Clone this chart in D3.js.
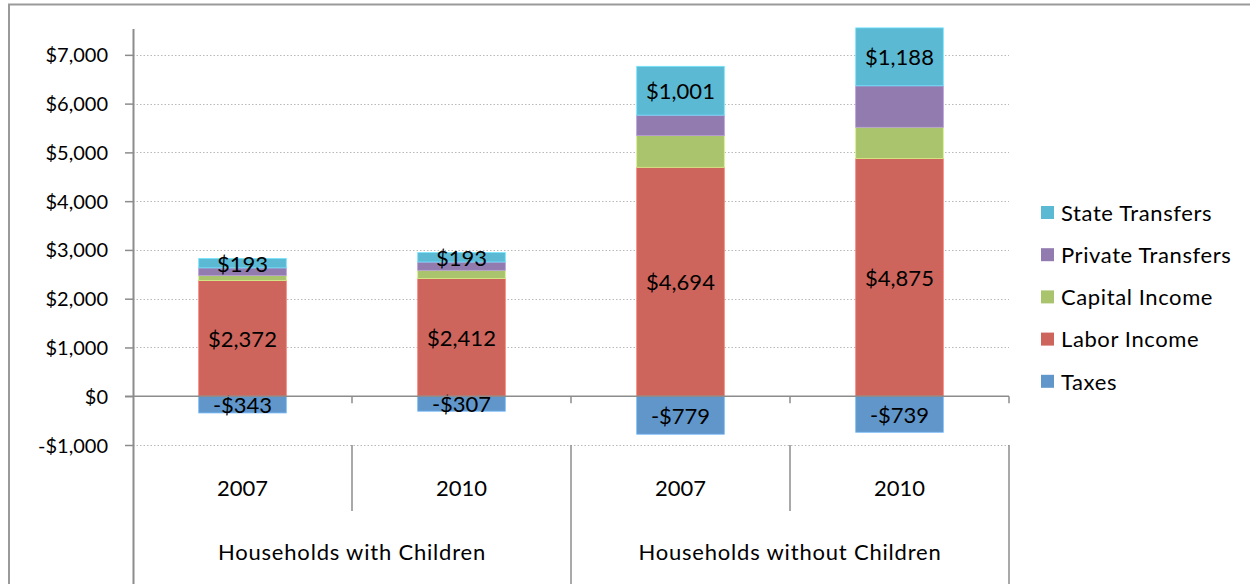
<!DOCTYPE html>
<html>
<head>
<meta charset="utf-8">
<script src="https://cdn.jsdelivr.net/npm/d3@7"></script>
<style>
  html, body { margin: 0; padding: 0; background: #fff; }
  svg { display: block; }
  text { font-family: Lato, "Open Sans", sans-serif; fill: #000; }
</style>
</head>
<body>
<svg id="chart" width="1250" height="584"></svg>
<script>
// Household income components by year and household type
const groups = ["Households with Children", "Households without Children"];
const years = ["2007", "2010"];
const seriesNames = ["Taxes", "Labor Income", "Capital Income", "Private Transfers", "State Transfers"];
const taxes = [-343, -307, -779, -739];
const laborIncome = [2372, 2412, 4694, 4875];
const capitalIncome = [105, 170, 650, 640];
const privateTransfers = [155, 170, 420, 850];
const stateTransfers = [193, 193, 1001, 1188];
const yTicks = [-1000, 0, 1000, 2000, 3000, 4000, 5000, 6000, 7000];
const labelledSeries = ["Taxes", "Labor Income", "State Transfers"];

const colors = {
  "Taxes": "#6096ca",
  "Labor Income": "#cd655c",
  "Capital Income": "#aac46e",
  "Private Transfers": "#927baf",
  "State Transfers": "#5cb9d3"
};

const valuesBySeries = {
  "Taxes": taxes,
  "Labor Income": laborIncome,
  "Capital Income": capitalIncome,
  "Private Transfers": privateTransfers,
  "State Transfers": stateTransfers
};

// one row per bar: group + year
const bars = [];
groups.forEach((g, gi) => years.forEach((yr, yi) => {
  const i = gi * years.length + yi;
  const row = { key: g + "|" + yr, group: g, year: yr };
  seriesNames.forEach(s => row[s] = valuesBySeries[s][i]);
  bars.push(row);
}));

const svg = d3.select("#chart");
const plot = { left: 133, right: 1009, top: 29 };

const x = d3.scaleBand()
  .domain(bars.map(d => d.key))
  .range([plot.left, plot.right])
  .paddingInner(0.6)
  .paddingOuter(0.3);

const y = d3.scaleLinear()
  .domain([-1000, 7530])
  .range([445, plot.top]);

const fmt = v => (v < 0 ? "-$" : "$") + d3.format(",")(Math.abs(v));

// outer frame
svg.append("path")
  .attr("d", "M9,590 L9,4.5 L1260,4.5")
  .attr("fill", "none")
  .attr("stroke", "#9a9a9a")
  .attr("stroke-width", 2);

// gridlines
svg.append("g")
  .selectAll("line")
  .data(yTicks.filter(t => t !== 0))
  .join("line")
  .attr("x1", plot.left).attr("x2", plot.right)
  .attr("y1", d => Math.round(y(d)) + 0.5).attr("y2", d => Math.round(y(d)) + 0.5)
  .attr("stroke", "#b8b8b8")
  .attr("stroke-width", 1)
  .attr("stroke-dasharray", "1.5,2");

// y axis
const yAxis = d3.axisLeft(y)
  .tickValues(yTicks)
  .tickFormat(fmt)
  .tickSize(8)
  .tickPadding(17);
const yg = svg.append("g")
  .attr("transform", `translate(${plot.left},0)`)
  .call(yAxis);
yg.select(".domain").remove();
yg.selectAll(".tick line").attr("stroke", "#8c8c8c").attr("stroke-width", 1.5);
yg.selectAll(".tick text")
  .attr("font-family", "Lato, sans-serif")
  .attr("font-size", 20)
  .attr("fill", "#000")
  .attr("dy", "0.35em");

// stacked bars (positive and negative stacks)
const stack = d3.stack()
  .keys(seriesNames)
  .offset(d3.stackOffsetDiverging);
const layers = stack(bars);

const barG = svg.append("g");
layers.forEach(layer => {
  barG.selectAll(null)
    .data(layer)
    .join("rect")
    .attr("x", d => x(d.data.key))
    .attr("width", x.bandwidth())
    .attr("y", d => y(Math.max(d[0], d[1])))
    .attr("height", d => Math.abs(y(d[0]) - y(d[1])))
    .attr("fill", colors[layer.key])
    .attr("stroke", d3.color(colors[layer.key]).brighter(0.6))
    .attr("stroke-width", 0.8);
});

// value labels on selected segments
layers.filter(l => labelledSeries.includes(l.key)).forEach(layer => {
  barG.selectAll(null)
    .data(layer)
    .join("text")
    .attr("x", d => x(d.data.key) + x.bandwidth() / 2)
    .attr("y", d => (y(d[0]) + y(d[1])) / 2)
    .attr("dy", "0.38em")
    .attr("text-anchor", "middle")
    .attr("font-size", 22)
    .text(d => fmt(d.data[layer.key]));
});

// left axis line through the category area
svg.append("line")
  .attr("x1", plot.left + 0.5).attr("x2", plot.left + 0.5)
  .attr("y1", plot.top).attr("y2", 590)
  .attr("stroke", "#8c8c8c").attr("stroke-width", 2);

// zero line (category axis)
svg.append("line")
  .attr("x1", plot.left - 8).attr("x2", plot.right)
  .attr("y1", y(0)).attr("y2", y(0))
  .attr("stroke", "#8c8c8c").attr("stroke-width", 1.5);

// category tick marks at band boundaries
const step = x.step();
const boundaries = d3.range(bars.length + 1).map(i => plot.left + i * step);
svg.append("g")
  .selectAll("line")
  .data(boundaries.slice(1))
  .join("line")
  .attr("x1", d => d).attr("x2", d => d)
  .attr("y1", y(0)).attr("y2", y(0) + 7)
  .attr("stroke", "#8c8c8c").attr("stroke-width", 1.5);

// multi-level category separators
svg.append("g")
  .selectAll("line")
  .data(boundaries.slice(1))
  .join("line")
  .attr("x1", d => d).attr("x2", d => d)
  .attr("y1", y(-1000))
  .attr("y2", (d, i) => ((i + 1) % years.length === 0) ? 590 : 511)
  .attr("stroke", "#8c8c8c").attr("stroke-width", 1.5);

// year labels
svg.append("g")
  .selectAll("text")
  .data(bars)
  .join("text")
  .attr("x", d => x(d.key) + x.bandwidth() / 2)
  .attr("y", 488)
  .attr("dy", "0.35em")
  .attr("text-anchor", "middle")
  .attr("font-size", 22)
  .text(d => d.year);

// group labels
svg.append("g")
  .selectAll("text")
  .data(groups)
  .join("text")
  .attr("x", (g, gi) => plot.left + (gi + 0.5) * step * years.length)
  .attr("y", 552)
  .attr("dy", "0.35em")
  .attr("text-anchor", "middle")
  .attr("font-size", 22)
  .attr("letter-spacing", "0.8px")
  .text(d => d);

// legend
const legendOrder = seriesNames.slice().reverse();
const legend = svg.append("g").attr("transform", "translate(1041,213)");
const li = legend.selectAll("g")
  .data(legendOrder)
  .join("g")
  .attr("transform", (d, i) => `translate(0,${i * 42.2})`);
li.append("rect")
  .attr("x", 0).attr("y", -7)
  .attr("width", 13).attr("height", 13)
  .attr("fill", d => colors[d]);
li.append("text")
  .attr("x", 20).attr("y", 0)
  .attr("dy", "0.35em")
  .attr("font-size", 22)
  .attr("letter-spacing", "0.6px")
  .text(d => d);
</script>
</body>
</html>
